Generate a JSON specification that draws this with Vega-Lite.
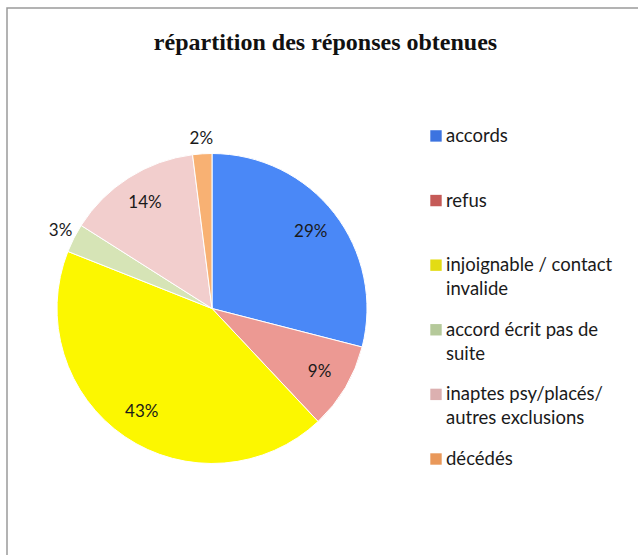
{
  "$schema": "https://vega.github.io/schema/vega-lite/v6.json",
  "autosize": {"type": "pad"},
  "padding": {"left": 6, "top": 7, "right": 0, "bottom": 0},
  "background": "white",
  "title": {"text": "répartition des réponses obtenues", "font": "Liberation Serif", "fontSize": 24, "fontWeight": "bold", "color": "#111111", "anchor": "middle", "baseline": "alphabetic", "offset": -67, "dx": 3},
  "data": {"values": [
    {"rang": 1, "categorie": "accords", "legende": "\u2005accords", "pct": 0.29},
    {"rang": 2, "categorie": "refus", "legende": "\u2005refus", "pct": 0.09},
    {"rang": 3, "categorie": "injoignable / contact invalide", "legende": "\u2005injoignable / contact\ninvalide", "pct": 0.43},
    {"rang": 4, "categorie": "accord écrit pas de suite", "legende": "\u2005accord écrit pas de\nsuite", "pct": 0.03},
    {"rang": 5, "categorie": "inaptes psy/placés/ autres exclusions", "legende": "\u2005inaptes psy/placés/\nautres exclusions", "pct": 0.14},
    {"rang": 6, "categorie": "décédés", "legende": "\u2005décédés", "pct": 0.02}
  ]},
  "spacing": 0,
  "bounds": "flush",
  "resolve": {"scale": {"color": "independent"}},
  "hconcat": [
    {
      "width": 410,
      "height": 547,
      "view": {"stroke": "#9a9a9a", "strokeWidth": 1.5, "strokeDash": [410, 957, 547, 1]},
      "layer": [
        {
          "mark": {"type": "arc", "outerRadius": 155, "stroke": "white", "strokeWidth": 1, "yOffset": 27},
          "encoding": {
            "theta": {"field": "pct", "type": "quantitative", "stack": true},
            "order": {"field": "rang", "type": "quantitative"},
            "color": {"field": "categorie", "type": "nominal", "legend": null,
              "scale": {"domain": ["accords", "refus", "injoignable / contact invalide", "accord écrit pas de suite", "inaptes psy/placés/ autres exclusions", "décédés"],
                        "range": ["#4a88f7", "#ec9993", "#fcf700", "#d6e4b6", "#f2cecd", "#f8b173"]}}
          }
        },
        {
          "mark": {"type": "text", "radius": 125, "yOffset": 27, "font": "Lato", "fontSize": 17, "color": "#1a1a1a"},
          "encoding": {
            "theta": {"field": "pct", "type": "quantitative", "stack": true},
            "order": {"field": "rang", "type": "quantitative"},
            "text": {"condition": {"test": "datum.pct < 0.05", "value": ""}, "field": "pct", "type": "quantitative", "format": ".0%"}
          }
        },
        {
          "mark": {"type": "text", "radius": 170, "yOffset": 27, "font": "Lato", "fontSize": 17, "color": "#1a1a1a"},
          "encoding": {
            "theta": {"field": "pct", "type": "quantitative", "stack": true},
            "order": {"field": "rang", "type": "quantitative"},
            "text": {"condition": {"test": "datum.pct >= 0.05", "value": ""}, "field": "pct", "type": "quantitative", "format": ".0%"}
          }
        }
      ]
    },
    {
      "width": 38,
      "height": 451,
      "view": {"stroke": "#9a9a9a", "strokeWidth": 1.5, "strokeDash": [38, 2000]},
      "layer": [
        {
          "mark": {"type": "point", "shape": "square", "filled": true, "size": 130, "opacity": 1},
          "encoding": {
            "y": {"field": "categorie", "type": "nominal", "sort": null, "axis": null,
              "scale": {"type": "point", "padding": 0.99, "align": 1}},
            "color": {"field": "categorie", "type": "nominal", "legend": null,
              "scale": {"domain": ["accords", "refus", "injoignable / contact invalide", "accord écrit pas de suite", "inaptes psy/placés/ autres exclusions", "décédés"],
                        "range": ["#3c73e0", "#c55a57", "#e3dc14", "#b5c99a", "#dcb0b0", "#e9985a"]}}
          }
        },
        {
          "mark": {"type": "text", "align": "left", "baseline": "alphabetic", "dx": 10, "dy": 6, "lineBreak": "\n", "lineHeight": 24, "font": "Lato", "fontSize": 18.5, "color": "#1a1a1a"},
          "encoding": {
            "y": {"field": "categorie", "type": "nominal", "sort": null, "axis": null,
              "scale": {"type": "point", "padding": 0.99, "align": 1}},
            "text": {"field": "legende", "type": "nominal"}
          }
        }
      ]
    },
    {
      "width": 183,
      "height": 547,
      "view": {"stroke": "#9a9a9a", "strokeWidth": 1.5, "strokeDash": [183, 2000]},
      "mark": {"type": "text"},
      "encoding": {"text": {"value": ""}}
    }
  ]
}
